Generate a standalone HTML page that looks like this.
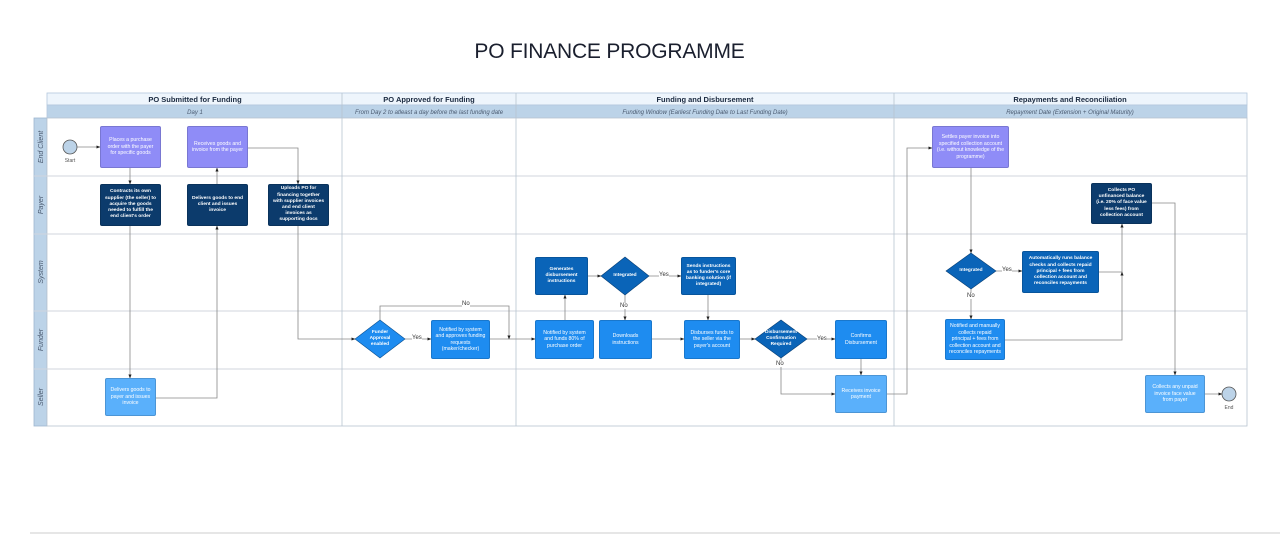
<!DOCTYPE html>
<html><head><meta charset="utf-8"><style>
body{margin:0;width:1280px;height:544px;background:#fff;position:relative;overflow:hidden;font-family:"Liberation Sans",sans-serif}
.t{position:absolute;left:0;top:40px;width:1219px;text-align:center;font-size:21px;color:#1a1f2e;letter-spacing:-0.2px}
.b{position:absolute;display:flex;align-items:center;justify-content:center;text-align:center;color:#fff;font-size:5.2px;line-height:6.5px;border-radius:2px;box-sizing:border-box;padding:2px 3px;border:1px solid rgba(0,0,0,.15)}
.p{background:#8f8cf7}.n{background:#0c3b6c;font-weight:bold;font-size:4.9px;line-height:6.2px}.m{background:#0a64b8;font-weight:bold;font-size:4.9px;line-height:6.2px}.u{background:#1e8cf0}.l{background:#5ab0fb}
.d{position:absolute;display:flex;align-items:center;justify-content:center;text-align:center;color:#fff;font-size:4.8px;line-height:6px;font-weight:bold;box-sizing:border-box;padding:0 11px}
.lb{position:absolute;font-size:6px;color:#333}
</style></head><body>
<div class="t">PO FINANCE PROGRAMME</div>
<svg width="1280" height="544" style="position:absolute;left:0;top:0">
<defs><marker id="a" markerWidth="5" markerHeight="5" refX="4.5" refY="2.5" orient="auto"><path d="M0,0.5L5,2.5L0,4.5z" fill="#222"/></marker></defs>
<rect x="47" y="93" width="1200" height="12" fill="#eef5fc" stroke="#b4c8dc" stroke-width="0.8"/>
<rect x="47" y="105" width="1200" height="13" fill="#bcd3e8" stroke="#b4c8dc" stroke-width="0.8"/>
<rect x="34" y="118" width="13" height="308" fill="#bcd3e8" stroke="#9db6cf" stroke-width="0.8"/>
<rect x="47" y="118" width="1200" height="308" fill="#fff" stroke="#b8c4d0" stroke-width="0.8"/>
<g stroke="#d0d6de" stroke-width="1">
<line x1="34" y1="176" x2="1247" y2="176"/><line x1="34" y1="234" x2="1247" y2="234"/><line x1="34" y1="311" x2="1247" y2="311"/><line x1="34" y1="369" x2="1247" y2="369"/>
</g>
<g stroke="#b8c4d0" stroke-width="0.8">
<line x1="342" y1="93" x2="342" y2="426"/><line x1="516" y1="93" x2="516" y2="426"/><line x1="894" y1="93" x2="894" y2="426"/>
</g>
<g font-size="7.5" font-weight="600" fill="#1b2a40" text-anchor="middle">
<text x="195" y="102">PO Submitted for Funding</text><text x="429" y="102">PO Approved for Funding</text><text x="705" y="102">Funding and Disbursement</text><text x="1070" y="102">Repayments and Reconciliation</text>
</g>
<g font-size="6" font-style="italic" fill="#4a5a70" text-anchor="middle">
<text x="195" y="114">Day 1</text><text x="429" y="114">From Day 2 to atleast a day before the last funding date</text><text x="705" y="114">Funding Window (Earliest Funding Date to Last Funding Date)</text><text x="1070" y="114">Repayment Date (Extension + Original Maturity)</text>
</g>
<g font-size="7" font-style="italic" fill="#4a5a70" text-anchor="middle">
<text transform="translate(43,147) rotate(-90)">End Client</text><text transform="translate(43,205) rotate(-90)">Payer</text><text transform="translate(43,272) rotate(-90)">System</text><text transform="translate(43,340) rotate(-90)">Funder</text><text transform="translate(43,397) rotate(-90)">Seller</text>
</g>
<line x1="30" y1="533" x2="1280" y2="533" stroke="#ccc"/>
<g fill="none" stroke="#888" stroke-width="0.8" marker-end="url(#a)">
<path d="M77,147H100"/><path d="M130,168V184"/><path d="M130,226V378"/>
<path d="M156,398H217V226"/><path d="M217,184V168"/>
<path d="M248,148H298V184"/><path d="M298,226V339H355"/>
<path d="M405,339H431"/><path d="M490,339H535"/>
<path d="M380,320V306H509V339"/>
<path d="M565,320V295"/><path d="M588,276H601"/><path d="M649,276H681"/>
<path d="M625,295V320"/><path d="M708,295V320"/><path d="M652,339H684"/>
<path d="M740,339H755"/><path d="M807,339H835"/><path d="M781,358V394H835"/>
<path d="M861,359V375"/><path d="M887,394H907V148H932"/>
<path d="M971,168V253"/><path d="M996,271H1022"/><path d="M971,289V319"/>
<path d="M1099,272H1122V224"/><path d="M1005,340H1122V272"/>
<path d="M1152,203H1175V375"/><path d="M1205,394H1222"/>
</g>
<circle cx="70" cy="147" r="7" fill="#bcd3e8" stroke="#555" stroke-width="0.8"/>
<circle cx="1229" cy="394" r="7" fill="#bcd3e8" stroke="#555" stroke-width="0.8"/>
<text x="70" y="162" font-size="5" fill="#555" text-anchor="middle">Start</text>
<text x="1229" y="409" font-size="5" fill="#555" text-anchor="middle">End</text>
<polygon points="380,320 405,339 380,358 355,339" fill="#1e8cf0" stroke="#0a4f90" stroke-width="0.6"/>
<polygon points="625,257 649,276 625,295 601,276" fill="#0a64b8" stroke="#073e74" stroke-width="0.6"/>
<polygon points="781,320 807,339 781,358 755,339" fill="#0a64b8" stroke="#073e74" stroke-width="0.6"/>
<polygon points="971,253 996,271 971,289 946,271" fill="#0a64b8" stroke="#073e74" stroke-width="0.6"/>
</svg>
<div class="lb" style="left:412px;top:335px;background:#fff">Yes</div>
<div class="lb" style="left:462px;top:301px;background:#fff">No</div>
<div class="lb" style="left:659px;top:272px;background:#fff">Yes</div>
<div class="lb" style="left:620px;top:303px;background:#fff">No</div>
<div class="lb" style="left:817px;top:336px;background:#fff">Yes</div>
<div class="lb" style="left:776px;top:361px;background:#fff">No</div>
<div class="lb" style="left:1002px;top:267px;background:#fff">Yes</div>
<div class="lb" style="left:967px;top:293px;background:#fff">No</div>

<div class="b p" style="left:100px;top:126px;width:61px;height:42px">Places a purchase order with the payer for specific goods</div>
<div class="b p" style="left:187px;top:126px;width:61px;height:42px">Receives goods and invoice from the payer</div>
<div class="b n" style="left:100px;top:184px;width:61px;height:42px">Contracts its own supplier (the seller) to acquire the goods needed to fulfill the end client's order</div>
<div class="b n" style="left:187px;top:184px;width:61px;height:42px">Delivers goods to end client and issues invoice</div>
<div class="b n" style="left:268px;top:184px;width:61px;height:42px">Uploads PO for financing together with supplier invoices and end client invoices as supporting docs</div>
<div class="b l" style="left:105px;top:378px;width:51px;height:38px">Delivers goods to payer and issues invoice</div>
<div class="d" style="left:355px;top:320px;width:50px;height:38px">Funder Approval enabled</div>
<div class="b u" style="left:431px;top:320px;width:59px;height:39px">Notified by system and approves funding requests (maker/checker)</div>
<div class="b u" style="left:535px;top:320px;width:59px;height:39px">Notified by system and funds 80% of purchase order</div>
<div class="b m" style="left:535px;top:257px;width:53px;height:38px">Generates disbursement instructions</div>
<div class="d" style="left:601px;top:257px;width:48px;height:38px;padding:0">Integrated</div>
<div class="b m" style="left:681px;top:257px;width:55px;height:38px">Sends instructions as to funder's core banking solution (if integrated)</div>
<div class="b u" style="left:599px;top:320px;width:53px;height:39px">Downloads instructions</div>
<div class="b u" style="left:684px;top:320px;width:56px;height:39px">Disburses funds to the seller via the payer's account</div>
<div class="d" style="left:755px;top:320px;width:52px;height:38px;padding:0 6px">Disbursement Confirmation Required</div>
<div class="b u" style="left:835px;top:320px;width:52px;height:39px">Confirms Disbursement</div>
<div class="b l" style="left:835px;top:375px;width:52px;height:38px">Receives invoice payment</div>
<div class="b p" style="left:932px;top:126px;width:77px;height:42px">Settles payer invoice into specified collection account (i.e. without knowledge of the programme)</div>
<div class="b n" style="left:1091px;top:183px;width:61px;height:41px">Collects PO unfinanced balance (i.e. 20% of face value less fees) from collection account</div>
<div class="d" style="left:946px;top:253px;width:50px;height:36px;padding:0">Integrated</div>
<div class="b m" style="left:1022px;top:251px;width:77px;height:42px">Automatically runs balance checks and collects repaid principal + fees from collection account and reconciles repayments</div>
<div class="b u" style="left:945px;top:319px;width:60px;height:41px">Notified and manually collects repaid principal + fees from collection account and reconciles repayments</div>
<div class="b l" style="left:1145px;top:375px;width:60px;height:38px">Collects any unpaid invoice face value from payer</div>
</body></html>
